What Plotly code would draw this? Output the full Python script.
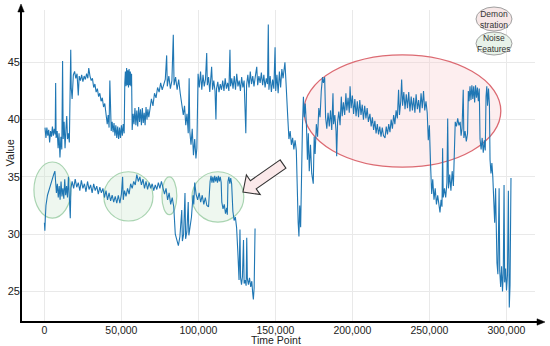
import plotly.graph_objects as go

# ---------------- data (x in time points, y values) ----------------
upper_x_k = [
    0.4, 1.0, 1.6, 2.2, 2.8, 3.4, 4.0, 4.6, 5.2, 5.8, 6.4, 7.0, 7.3, 7.6, 8.3, 8.9, 9.5, 10.1, 10.7, 11.3,
    11.8, 12.2, 12.8, 13.4, 14.0, 14.5, 15.0, 15.6, 16.2, 16.8, 17.1, 17.4, 18.0, 18.8, 19.6, 20.4, 21.2, 22.0,
    22.6, 23.4, 24.2, 25.0, 25.8, 26.6, 27.4, 28.2, 28.8, 29.6, 30.4, 31.2, 32.0, 32.8, 33.6, 34.4, 35.2, 36.0,
    36.8, 37.6, 38.4, 39.2, 40.0, 40.8, 41.4, 42.0, 42.5, 42.9, 43.4, 44.0, 44.6, 45.2, 45.8, 46.4, 47.0, 47.6,
    48.2, 48.8, 49.4, 50.0, 50.6, 51.2, 51.8, 52.2, 52.6, 53.0, 53.4, 53.8, 54.2, 54.6, 55.0, 55.4, 55.8, 56.2,
    56.6, 57.0, 57.6, 58.2, 58.8, 59.4, 60.0, 60.6, 61.2, 61.8, 62.4, 63.0, 63.6, 64.2, 64.8, 65.4, 66.0, 66.6,
    67.2, 67.8, 68.5, 69.5, 70.5, 71.5, 72.5, 73.5, 74.5, 75.5, 76.5, 77.5, 78.5, 79.4, 79.8, 80.8, 81.8, 82.8,
    83.7, 84.2, 85.2, 86.2, 87.2, 88.2, 89.2, 90.2, 91.0, 91.8, 92.6, 93.4, 94.0, 94.4, 95.2, 96.0, 96.8, 97.6,
    98.4, 99.0, 99.8, 100.6, 101.4, 102.2, 103.0, 103.8, 104.6, 105.4, 105.8, 106.6, 107.4, 108.2, 108.6, 109.2,
    110.0, 110.8, 111.4, 111.8, 112.6, 113.4, 114.2, 115.0, 115.8, 116.6, 117.4, 118.2, 119.0, 119.8, 120.5,
    120.9, 121.7, 122.5, 123.3, 124.1, 124.9, 125.7, 126.5, 127.3, 128.1, 128.9, 129.7, 130.8, 131.3, 132.1,
    132.9, 133.7, 134.5, 135.3, 136.1, 136.9, 137.9, 138.5, 139.3, 140.1, 140.9, 141.7, 142.5, 143.3, 144.1,
    144.9, 145.4, 145.8, 146.6, 147.4, 148.2, 149.0, 149.8, 150.2, 151.0, 151.8, 152.6, 153.4, 154.2, 155.0,
    155.8, 156.2, 156.8, 157.4, 158.0, 158.8, 159.6, 160.4, 161.2, 162.0, 162.8, 163.6, 164.2, 164.8, 165.3,
    165.8, 166.4, 167.0, 167.6, 168.2, 168.8, 169.4, 170.2, 170.8, 171.4, 172.0, 172.8, 173.6, 174.6, 175.2,
    175.8, 176.6, 177.4, 178.2, 179.0, 179.8, 180.6, 181.2, 182.0, 182.6, 183.4, 184.2, 185.0, 185.8, 186.6,
    187.4, 187.8, 188.6, 189.4, 189.8, 190.4, 191.2, 192.0, 192.8, 193.4, 194.2, 195.0, 195.8, 196.4, 197.2,
    198.0, 198.5, 199.2, 200.0, 200.8, 201.6, 202.4, 203.2, 204.0, 204.8, 205.6, 206.4, 207.2, 208.0, 208.8,
    209.6, 210.4, 211.4, 212.2, 213.0, 213.8, 214.6, 215.4, 216.2, 217.0, 217.8, 218.6, 219.4, 220.2, 221.2,
    222.0, 222.8, 223.6, 224.4, 225.2, 226.0, 226.8, 227.6, 228.4, 229.2, 230.0, 230.6, 231.4, 232.0, 232.6,
    233.4, 234.2, 235.0, 235.8, 236.6, 237.4, 238.2, 239.0, 239.8, 240.6, 241.4, 242.2, 243.0, 243.8, 244.6,
    245.4, 246.2, 247.0, 247.8, 248.6, 249.3, 250.0, 250.8, 251.5, 252.2, 253.0, 253.8, 254.6, 255.4, 256.2,
    256.9, 257.6, 258.2, 258.6, 259.0, 259.8, 260.6, 261.4, 261.9, 262.4, 263.2, 264.0, 264.8, 265.6, 266.2,
    266.8, 267.6, 268.4, 269.2, 270.0, 270.6, 271.2, 272.0, 272.4, 273.2, 274.0, 274.8, 275.3, 275.8, 276.4,
    277.0, 277.6, 278.2, 278.8, 279.4, 280.0, 280.6, 281.2, 281.8, 282.4, 282.9, 283.6, 284.3, 285.0, 285.7,
    286.3, 286.8, 287.3, 287.8, 288.4, 289.0, 289.4, 290.0, 290.6, 291.2, 291.8, 292.4, 293.0, 293.4, 293.9,
    294.5, 295.3, 295.7, 296.3, 296.9, 297.5, 298.0, 298.5, 298.9, 299.5, 300.1, 300.7, 301.3, 301.6, 301.9,
    302.4, 303.0,
]
upper_y = [
    39.3, 38.4, 39.3, 38.6, 39.1, 38.0, 39.0, 38.5, 39.4, 38.6, 39.2, 38.7, 43.2, 38.4, 39.0, 37.5, 38.8, 36.7, 38.5, 37.4,
    45.1, 38.3, 39.8, 37.5, 39.2, 40.3, 38.3, 38.8, 38.0, 42.5, 46.1, 42.8, 41.8, 43.9, 44.2, 43.6, 44.0, 42.1,
    43.8, 43.4, 43.9, 43.3, 43.8, 43.5, 44.0, 43.6, 44.5, 43.8, 43.4, 43.6, 42.8, 43.1, 42.4, 42.7, 42.0, 42.3,
    41.6, 41.9, 41.1, 41.4, 40.6, 39.6, 40.4, 39.3, 43.4, 40.2, 39.0, 39.8, 38.9, 39.7, 38.6, 39.5, 38.4, 39.4,
    38.3, 39.3, 38.4, 39.5, 38.6, 39.6, 38.8, 43.2, 44.2, 42.9, 44.5, 43.0, 44.3, 42.8, 44.4, 43.0, 44.2, 42.9,
    44.0, 39.1, 40.5, 39.6, 41.0, 39.5, 40.8, 39.4, 41.1, 39.8, 40.9, 39.5, 41.0, 39.7, 40.6, 39.5, 41.1, 40.0,
    40.9, 40.2, 40.8, 41.8, 41.2, 42.3, 41.9, 42.8, 42.4, 43.2, 42.6, 43.0, 43.5, 45.6, 42.9, 43.8, 42.7, 43.4,
    47.4, 43.0, 43.7, 42.6, 43.5, 42.3, 41.5, 40.4, 41.2, 39.5, 40.5, 38.8, 43.6, 39.0, 37.8, 39.2, 36.9, 38.3,
    36.6, 37.5, 44.0, 42.8, 44.2, 42.6, 43.9, 42.9, 43.5, 45.8, 43.0, 43.7, 42.4, 43.5, 44.6, 42.6,
    43.4, 42.5, 40.0, 42.7, 43.3, 42.4, 43.1, 42.6, 43.4, 42.5, 43.6, 42.7, 43.2, 42.5, 46.1,
    42.9, 43.6, 42.7, 43.8, 42.6, 44.0, 42.9, 43.4, 42.5, 43.7, 42.8, 43.4, 38.8, 43.0, 43.9,
    42.8, 44.2, 43.1, 43.8, 42.9, 43.7, 44.6, 43.0, 43.8, 43.2, 44.1, 43.0, 43.9, 42.8, 43.6,
    43.1, 48.3, 42.6, 43.8, 42.4, 43.5, 42.7, 46.3, 42.5, 43.9, 42.3, 44.2, 42.8, 44.4, 43.6,
    44.8, 45.0, 43.5, 41.2, 40.3, 38.3, 39.0, 37.8, 38.4, 37.4, 38.2, 37.3, 33.5, 31.0, 29.8,
    32.5, 30.6, 36.0, 39.5, 42.0, 40.2, 41.4, 39.4, 36.5, 38.8, 35.5, 37.8, 35.3, 34.4, 38.5,
    37.0, 39.6, 38.5, 41.0, 40.2, 42.5, 43.7, 43.2, 43.7, 40.2, 39.2, 40.6, 39.4, 40.8, 39.1,
    42.3, 39.6, 40.4, 39.0, 36.8, 39.8, 40.7, 39.5, 42.0, 40.3, 41.5, 40.4, 42.3, 40.8, 41.9,
    40.6, 42.9, 41.0, 42.1, 40.5, 41.8, 40.3, 41.6, 40.2, 41.7, 40.4, 41.3, 40.0, 41.2, 40.1,
    41.0, 39.8, 40.5, 39.4, 40.2, 39.1, 39.9, 38.8, 39.6, 38.7, 39.4, 38.5, 39.3, 38.6, 38.4,
    39.4, 38.7, 39.6, 38.9, 40.0, 39.2, 40.4, 39.6, 40.8, 40.1, 42.6, 40.4, 41.6, 43.5, 41.2,
    42.4, 40.9, 42.2, 41.0, 42.4, 40.7, 42.0, 40.8, 41.9, 40.6, 42.2, 40.9, 41.7, 40.6, 42.3,
    41.0, 42.5, 40.8, 41.6, 40.6, 38.2, 39.5, 36.0, 33.5, 34.8, 33.0, 34.0, 32.6, 33.4, 32.3,
    31.9, 33.0, 32.4, 37.5, 33.2, 34.0, 33.2, 34.5, 40.1, 34.0, 35.2, 33.8, 35.5, 34.2, 37.0,
    39.8, 39.4, 40.1, 39.5, 39.8, 38.6, 39.2, 42.6, 38.4, 39.0, 38.1, 38.8, 42.5, 41.6, 42.9,
    41.7, 43.0, 41.8, 42.9, 41.5, 43.0, 41.9, 42.8, 41.6, 42.7, 38.3, 37.4, 38.4, 37.1, 38.2,
    37.3, 42.0, 42.9, 41.2, 42.7, 41.3, 36.5, 35.3, 36.2, 35.0, 33.5, 31.0, 34.0, 30.6, 27.5,
    26.5, 34.0, 26.8, 25.4, 27.2, 25.0, 26.6, 34.3, 25.8, 27.0, 25.1, 26.4, 33.8, 25.2, 23.6,
    25.6, 34.9,
]

lower_x_k = [
    0.0, 0.3, 0.6, 1.0, 2.0, 3.0, 4.0, 5.0, 6.0, 6.8, 7.2, 7.8, 8.4, 9.0, 9.6, 10.2, 10.8, 11.4, 12.0, 12.6,
    13.2, 13.8, 14.4, 15.0, 15.6, 16.2, 16.8, 17.2, 18.0, 19.0, 20.0, 21.0, 22.0, 23.0, 24.0, 25.0, 26.0,
    27.0, 28.0, 29.0, 30.0, 31.0, 32.0, 33.0, 34.0, 35.0, 36.0, 37.0, 38.0, 39.0, 40.0, 41.0, 42.0, 43.0,
    44.0, 45.0, 46.0, 47.0, 48.0, 49.0, 50.0, 50.8, 51.2, 52.0, 53.0, 54.0, 55.0, 56.0, 57.0, 58.0, 59.0,
    60.0, 61.0, 62.0, 63.0, 64.0, 65.0, 66.0, 67.0, 68.0, 69.0, 70.0, 71.0, 72.0, 73.0, 74.0, 75.0, 76.0,
    77.0, 78.0, 79.0, 80.0, 81.0, 82.0, 83.0, 84.0, 85.0, 86.0, 87.0, 88.0, 89.2, 89.6, 90.4, 91.3, 91.7,
    92.5, 93.4, 93.8, 94.6, 95.5, 96.5, 97.0, 97.6, 98.5, 99.5, 100.5, 101.5, 102.5, 103.5, 104.5, 105.5,
    106.6, 107.6, 108.2, 108.8, 109.4, 110.0, 110.6, 111.2, 111.8, 112.4, 113.0, 113.6, 114.2, 114.8, 115.2,
    116.0, 116.8, 117.6, 118.4, 118.8, 119.2, 119.8, 120.4, 121.0, 121.6, 122.4, 123.2, 124.0, 124.8, 125.6,
    126.4, 127.0, 127.4, 128.0, 128.6, 129.3, 129.7, 130.4, 131.0, 131.4, 131.8, 132.5, 133.2, 134.0, 134.7,
    135.3, 135.7, 136.2, 136.8,
]
lower_y = [
    31.0, 30.3, 31.4, 32.5, 33.4, 33.9, 34.4, 34.8, 35.2, 35.5, 34.1, 33.6, 34.4, 33.2, 34.2, 33.0, 34.6, 33.3, 34.0, 33.1,
    34.8, 33.4, 34.2, 33.2, 35.0, 33.5, 31.4, 34.0, 34.6, 34.0, 34.8, 34.1, 34.5, 33.8, 34.7, 34.0, 34.4,
    33.7, 34.6, 33.9, 34.3, 33.6, 34.4, 33.8, 34.2, 33.5, 34.1, 33.6, 34.0, 33.2, 33.8, 33.0, 33.6, 32.9,
    33.4, 32.8, 33.3, 32.7, 33.4, 32.7, 33.5, 35.0, 33.0, 33.8, 33.3, 34.0, 33.5, 34.4, 34.0, 34.6, 34.3,
    35.2, 34.6, 35.0, 34.3, 34.8, 34.0, 34.6, 33.9, 34.5, 34.0, 34.4, 33.8, 34.3, 33.9, 34.5, 34.0, 34.6,
    33.9, 33.5, 34.0, 33.0, 33.6, 32.6, 33.2, 32.4, 30.0, 29.5, 29.0, 29.8, 32.1, 29.4, 30.0, 33.6, 29.6,
    30.2, 32.8, 29.9, 30.5, 31.5, 33.4, 32.6, 34.5, 33.5, 33.0, 33.6, 32.8, 33.4, 32.6, 33.2, 32.5,
    32.4, 34.6, 35.1, 34.5, 35.0, 34.5, 35.1, 34.6, 35.0, 34.5, 35.1, 34.6, 35.0, 34.5, 32.8,
    32.2, 32.6, 31.8, 32.3, 31.7, 34.6, 35.0, 34.4, 34.9, 34.4, 32.0, 31.2, 31.5, 30.6, 28.5,
    26.0, 30.4, 26.2, 25.6, 26.3, 29.5, 25.7, 26.0, 25.5, 29.7, 26.1, 25.6, 26.2, 25.4, 25.9,
    24.8, 24.3, 25.3, 30.5,
]

x_tick_vals = [0, 50000, 100000, 150000, 200000, 250000, 300000]
y_tick_vals = [25, 30, 35, 40, 45]

upper_x = [v * 1000 for v in upper_x_k]
lower_x = [v * 1000 for v in lower_x_k]

# ---------------- layout geometry (pixels) ----------------
W, H = 550, 346
L, R, T, B = 21, 535, 10, 322  # plot area in pixels


def px(xp):
    return (xp - L) / (R - L)


def py(yp):
    return (B - yp) / (B - T)


LINE = "#1f77b4"

fig = go.Figure()
fig.add_trace(go.Scatter(x=upper_x, y=upper_y, mode="lines",
                         line=dict(color=LINE, width=1.1), showlegend=False, hoverinfo="skip"))
fig.add_trace(go.Scatter(x=lower_x, y=lower_y, mode="lines",
                         line=dict(color=LINE, width=1.1), showlegend=False, hoverinfo="skip"))

shapes = []
# green "noise feature" ellipses (data coordinates)
green_ellipses = [
    (-6800, 17200, 31.4, 36.3),
    (38600, 70500, 31.15, 35.45),
    (76300, 86000, 31.7, 35.0),
    (95800, 129500, 31.05, 35.45),
]
for x0, x1, y0, y1 in green_ellipses:
    shapes.append(dict(type="circle", xref="x", yref="y", x0=x0, x1=x1, y0=y0, y1=y1,
                       line=dict(color="#a9d4b1", width=1.2),
                       fillcolor="rgba(205,232,210,0.35)", layer="between"))
# red demonstration ellipse
shapes.append(dict(type="circle", xref="x", yref="y", x0=168500, x1=296400, y0=35.85, y1=45.65,
                   line=dict(color="#dc6a72", width=1.3),
                   fillcolor="rgba(248,205,210,0.35)", layer="between"))

# block arrow pointing to the 4th green ellipse
arrow_pts = [(280.1, 159.9), (250.4, 180.7), (246.4, 175.0), (243.0, 192.0),
             (260.2, 194.6), (256.2, 188.9), (285.9, 168.1)]
path = "M " + " L ".join(f"{px(a):.4f},{py(b):.4f}" for a, b in arrow_pts) + " Z"
shapes.append(dict(type="path", xref="paper", yref="paper", path=path,
                   line=dict(color="#333333", width=1.1), fillcolor="#fbe9ea", layer="above"))

# legend-like ellipses at the top right
shapes.append(dict(type="circle", xref="paper", yref="paper",
                   x0=px(476), x1=px(512), y0=py(31), y1=py(7),
                   line=dict(color="#a0a0a0", width=1), fillcolor="#f7e7e7", layer="above"))
shapes.append(dict(type="circle", xref="paper", yref="paper",
                   x0=px(476), x1=px(512), y0=py(55), y1=py(32),
                   line=dict(color="#a0a0a0", width=1), fillcolor="#e8f3e9", layer="above"))

# axis lines with arrowheads
shapes.append(dict(type="line", xref="paper", yref="paper", x0=px(21), x1=px(21), y0=py(322), y1=py(10),
                   line=dict(color="black", width=2), layer="above"))
shapes.append(dict(type="line", xref="paper", yref="paper", x0=px(20), x1=px(539), y0=py(322), y1=py(322),
                   line=dict(color="black", width=2), layer="above"))
shapes.append(dict(type="path", xref="paper", yref="paper",
                   path=f"M {px(21):.4f},{py(4):.4f} L {px(17.8):.4f},{py(12):.4f} L {px(24.2):.4f},{py(12):.4f} Z",
                   fillcolor="black", line=dict(color="black", width=0.5), layer="above"))
shapes.append(dict(type="path", xref="paper", yref="paper",
                   path=f"M {px(545):.4f},{py(322):.4f} L {px(537):.4f},{py(318.8):.4f} L {px(537):.4f},{py(325.2):.4f} Z",
                   fillcolor="black", line=dict(color="black", width=0.5), layer="above"))

annotations = [
    dict(text="Demon<br>stration", xref="paper", yref="paper", x=px(494), y=py(19),
         xanchor="center", yanchor="middle",
         showarrow=False, font=dict(size=8.5, color="#333333"), align="center"),
    dict(text="Noise<br>Features", xref="paper", yref="paper", x=px(494), y=py(43.5),
         xanchor="center", yanchor="middle",
         showarrow=False, font=dict(size=8.5, color="#333333"), align="center"),
    dict(text="Time Point", xref="paper", yref="paper", x=px(276), y=py(339.5),
         xanchor="center", yanchor="middle",
         showarrow=False, font=dict(size=10.5, color="#222222")),
    dict(text="Value", xref="paper", yref="paper", x=px(9.5), y=py(153),
         xanchor="center", yanchor="middle",
         showarrow=False, textangle=-90, font=dict(size=11, color="#222222")),
]

fig.update_layout(
    width=W, height=H,
    margin=dict(l=L, r=W - R, t=T, b=H - B, pad=0, autoexpand=False),
    paper_bgcolor="white", plot_bgcolor="white",
    font=dict(family="Liberation Sans, Arial, sans-serif", size=11, color="#222222"),
    shapes=shapes, annotations=annotations, showlegend=False,
    xaxis=dict(range=[-15200, 318600], tickvals=x_tick_vals, tickformat=",", automargin=False,
               showgrid=True, gridcolor="#e9e9e9", gridwidth=1, zeroline=False,
               showline=False, ticks="", tickfont=dict(size=10.5)),
    yaxis=dict(range=[22.34, 49.56], tickvals=y_tick_vals, automargin=False,
               showgrid=True, gridcolor="#e9e9e9", gridwidth=1, zeroline=False,
               showline=False, ticks="", tickfont=dict(size=11)),
)

fig.write_html("out.html", config={"displayModeBar": False},
               post_script="document.body.style.margin='0px';document.body.style.padding='0px';")
